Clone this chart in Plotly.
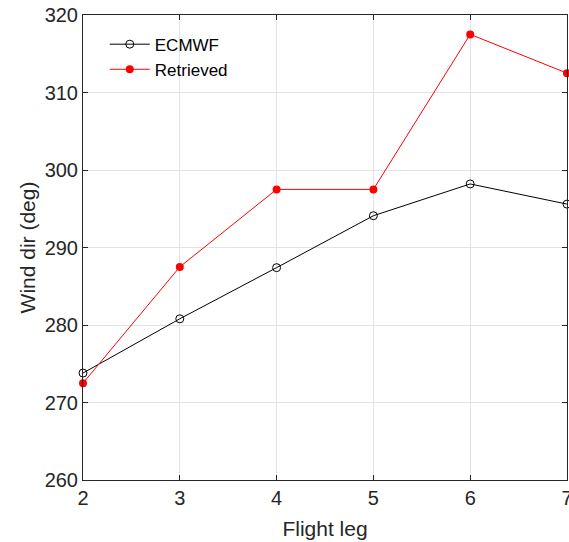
import plotly.graph_objects as go

flight_leg = [2, 3, 4, 5, 6, 7]
ecmwf_dir = [273.8, 280.8, 287.4, 294.1, 298.2, 295.6]
retrieved_dir = [272.5, 287.5, 297.5, 297.5, 317.5, 312.5]

FONT = "Liberation Sans, Arial"
INK = "#262626"

fig = go.Figure()
fig.add_trace(go.Scatter(
    x=flight_leg, y=ecmwf_dir, name="ECMWF", mode="lines+markers",
    line=dict(color="black", width=1),
    marker=dict(symbol="circle-open", size=8, color="black", line=dict(width=1)),
    cliponaxis=False,
))
fig.add_trace(go.Scatter(
    x=flight_leg, y=retrieved_dir, name="Retrieved", mode="lines+markers",
    line=dict(color="red", width=1),
    marker=dict(symbol="circle", size=8, color="red"),
    cliponaxis=False,
))

axis_common = dict(
    showline=True, linecolor=INK, linewidth=1, mirror="ticks",
    ticks="inside", ticklen=5, tickcolor=INK,
    showgrid=True, gridcolor="#e3e3e3", gridwidth=1, zeroline=False,
    tickfont=dict(family=FONT, size=20, color=INK),
    ticklabeloverflow="allow", automargin=False,
)

fig.update_xaxes(range=[2, 7], dtick=1, tick0=2,
                 title=dict(text="Flight leg", standoff=13,
                            font=dict(family=FONT, size=21, color=INK)),
                 **axis_common)
fig.update_yaxes(range=[260, 320], dtick=10, tick0=260,
                 title=dict(text="Wind dir (deg)", standoff=3,
                            font=dict(family=FONT, size=21, color=INK)),
                 **axis_common)

fig.update_layout(
    width=569, height=542,
    margin=dict(l=83, r=2, t=15, b=62),
    paper_bgcolor="white", plot_bgcolor="white",
    showlegend=True,
    legend=dict(x=0.045, y=0.975, xanchor="left", yanchor="top",
                bgcolor="rgba(255,255,255,0)", borderwidth=0,
                font=dict(family=FONT, size=17, color="black"),
                tracegroupgap=0, itemwidth=40),
)

fig.write_html("out.html")
